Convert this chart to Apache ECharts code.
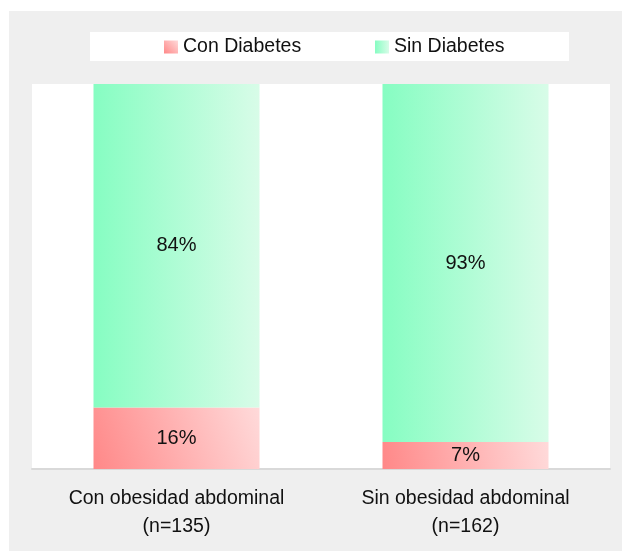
<!DOCTYPE html>
<html>
<head>
<meta charset="utf-8">
<title>Diabetes según obesidad abdominal</title>
<script src="https://cdn.jsdelivr.net/npm/echarts@6/dist/echarts.min.js"></script>
<style>
  html, body { margin: 0; padding: 0; background: #ffffff; }
  #chart { width: 622px; height: 551px; }
</style>
</head>
<body>
<div id="chart"></div>
<script>
// Groups on the x axis and their sample sizes
const groups = ['Con obesidad abdominal', 'Sin obesidad abdominal'];
const sampleSizes = [135, 162];

// Percentages per group (stacked to 100 %)
const conDiabetes = [16, 7];
const sinDiabetes = [84, 93];

const seriesNames = ['Con Diabetes', 'Sin Diabetes'];

const FONT = "'Liberation Sans', Arial, sans-serif";

const categories = groups.map((g, i) => g + '\n(n=' + sampleSizes[i] + ')');

const redFill = new echarts.graphic.LinearGradient(0, 1, 1, 0, [
  { offset: 0, color: '#ff8888' },
  { offset: 1, color: '#ffdada' }
]);
const greenFill = new echarts.graphic.LinearGradient(0, 0, 1, 0, [
  { offset: 0, color: '#86fdc2' },
  { offset: 1, color: '#d8fce8' }
]);

const chart = echarts.init(document.getElementById('chart'), null, { renderer: 'canvas' });

const legendText = { fontFamily: FONT, fontSize: 19.5, color: '#111111', lineHeight: 22 };

chart.setOption({
  backgroundColor: '#ffffff',
  animation: false,
  graphic: [
    { type: 'rect', z: -10, shape: { x: 9, y: 11, width: 613, height: 540 }, style: { fill: '#efefef' } },
    { type: 'rect', z: -9, shape: { x: 90, y: 32, width: 479, height: 29 }, style: { fill: '#ffffff' } }
  ],
  legend: [
    {
      data: [seriesNames[0]], left: 164, top: 36, padding: 0,
      itemWidth: 14, itemHeight: 13, itemGap: 5,
      icon: 'rect', textStyle: legendText
    },
    {
      data: [seriesNames[1]], left: 375, top: 36, padding: 0,
      itemWidth: 14, itemHeight: 13, itemGap: 5,
      icon: 'rect', textStyle: legendText
    }
  ],
  grid: {
    left: 32, right: 12, top: 84, bottom: 82,
    show: true, backgroundColor: '#ffffff', borderWidth: 0
  },
  xAxis: {
    type: 'category',
    data: categories,
    axisTick: { show: false },
    axisLine: { show: true, lineStyle: { color: '#d9d9d9', width: 2 } },
    axisLabel: {
      fontFamily: FONT, fontSize: 19.5, lineHeight: 28, color: '#111111', margin: 16,
      interval: 0
    }
  },
  yAxis: {
    type: 'value', min: 0, max: 100, show: false,
    splitLine: { show: false }
  },
  series: [
    {
      name: seriesNames[0], type: 'bar', stack: 'total', data: conDiabetes,
      barWidth: 166,
      itemStyle: { color: redFill },
      label: {
        show: true, position: 'inside', formatter: '{c}%',
        fontFamily: FONT, fontSize: 20, color: '#111111'
      }
    },
    {
      name: seriesNames[1], type: 'bar', stack: 'total', data: sinDiabetes,
      barWidth: 166,
      itemStyle: { color: greenFill },
      label: {
        show: true, position: 'inside', formatter: '{c}%',
        fontFamily: FONT, fontSize: 20, color: '#111111'
      }
    }
  ]
});
</script>
</body>
</html>
